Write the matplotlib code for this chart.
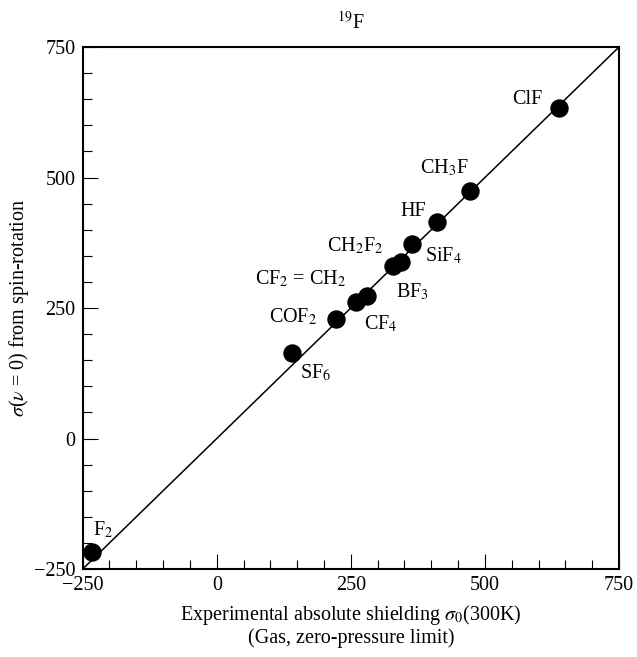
import matplotlib
matplotlib.use("Agg")
import matplotlib.pyplot as plt
from matplotlib.ticker import MultipleLocator

plt.rcParams["font.family"] = ["Liberation Serif", "DejaVu Serif"]
plt.rcParams["mathtext.fontset"] = "stix"

# data
molecules = ["ClF", "CH$_3$F", "HF", "SiF$_4$", "CH$_2$F$_2$", "BF$_3$",
             "CF$_2$ = CH$_2$", "CF$_4$", "COF$_2$", "SF$_6$", "F$_2$"]
sigma_exp = [639, 473, 411, 364, 328, 344, 260, 280, 223, 140, -233]
sigma_sr = [633, 475, 414, 373, 331, 339, 262, 273, 229, 164, -217]
tick_vals = [-250, 0, 250, 500, 750]
tick_text = ["\u2212250", "0", "250", "500", "750"]

# label offsets in points (layout only)
label_dx = [-23, -19, -17, 23, -27, 8, -40, 10, -31, 17, 8]
label_dy = [6.5, 16.5, 8, -9, 14, -22, 16.5, -20, 1.5, -14.5, 16]

fig = plt.figure(figsize=(6.37, 6.57), dpi=100)
ax = fig.add_axes([0.1298, 0.1339, 0.8419, 0.7945])

ax.plot([-250, 750], [-250, 750], color="black", lw=1.1, zorder=1)
ax.scatter(sigma_exp, sigma_sr, s=150, color="black", zorder=2)

for name, x, y, dx, dy in zip(molecules, sigma_exp, sigma_sr, label_dx, label_dy):
    ax.annotate(name, (x, y), xytext=(dx, dy), textcoords="offset points",
                ha="center", va="center", fontsize=14.5)

ax.set_xlim(-250, 750)
ax.set_ylim(-250, 750)
ax.set_xticks(tick_vals)
ax.set_xticklabels(tick_text)
ax.set_yticks(tick_vals)
ax.set_yticklabels(tick_text)
ax.xaxis.set_minor_locator(MultipleLocator(50))
ax.yaxis.set_minor_locator(MultipleLocator(50))
ax.tick_params(which="both", direction="in", top=False, right=False,
               labelsize=14.5, width=0.8)
ax.tick_params(which="major", length=11, pad=5)
ax.tick_params(which="minor", length=6.5)
for sp in ax.spines.values():
    sp.set_linewidth(1.5)

ax.set_xlabel("Experimental absolute shielding $\\sigma_0$(300K)\n(Gas, zero-pressure limit)",
              fontsize=14.5, labelpad=6, linespacing=1.05)
ax.set_ylabel("$\\sigma$($\\nu$ = 0) from spin-rotation", fontsize=14.5, labelpad=2)
fig.text(0.551, 0.966, "$^{19}$F", ha="center", va="center", fontsize=14.5)

fig.savefig("out.png", dpi=100)
